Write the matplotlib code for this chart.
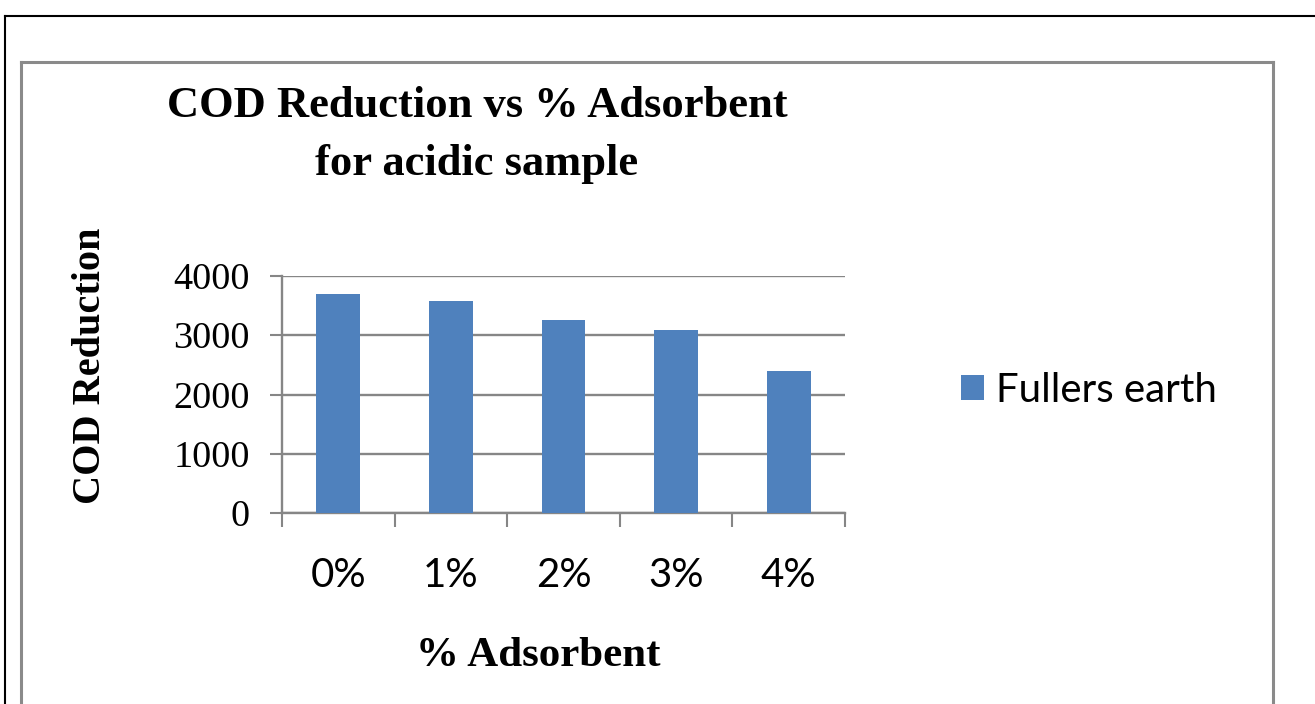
import matplotlib
matplotlib.use("Agg")
import matplotlib.pyplot as plt
from matplotlib.lines import Line2D
import numpy as np

# Data
categories = ["0%", "1%", "2%", "3%", "4%"]
cod_reduction = [3700, 3580, 3250, 3090, 2400]
series_name = "Fullers earth"
y_ticks = [0, 1000, 2000, 3000, 4000]

W, H = 1315, 704
fig = plt.figure(figsize=(W / 100, H / 100), dpi=100)
fig.patch.set_facecolor("white")


def fx(px):
    return px / W


def fy(py):
    return 1 - py / H


GRID = "#868686"
BAR = "#4F81BD"

# Page frame (black) and chart-area frame (grey)
frame_lines = [
    ((5, 5), (16, 704), "black", 1.5),
    ((5, 1315), (16, 16), "black", 1.5),
    ((21, 21), (62, 704), "#8a8a8a", 2.2),
    ((21, 1273), (62, 62), "#8a8a8a", 2.2),
    ((1273, 1273), (62, 704), "#8a8a8a", 2.2),
]
for xs, ys, c, lw in frame_lines:
    fig.add_artist(Line2D([fx(v) for v in xs], [fy(v) for v in ys],
                          transform=fig.transFigure, color=c, linewidth=lw))

# Plot area
ax = fig.add_axes([fx(282), fy(513), fx(845) - fx(282), fy(276) - fy(513)])
x = np.arange(len(categories))
ax.bar(x, cod_reduction, width=0.39, color=BAR, label=series_name, zorder=3)

ax.set_xlim(-0.5, len(categories) - 0.5)
ax.set_ylim(0, 4000)
ax.set_yticks(y_ticks)
ax.set_yticklabels([str(v) for v in y_ticks], fontfamily="Liberation Serif",
                   fontsize=27.5)
ax.yaxis.grid(True, color=GRID, linewidth=1.7)
ax.set_axisbelow(True)

for side in ["top", "right"]:
    ax.spines[side].set_visible(False)
for side in ["left", "bottom"]:
    ax.spines[side].set_color(GRID)
    ax.spines[side].set_linewidth(1.7)

# Category boundary ticks and centred category labels
ax.set_xticks(np.arange(-0.5, len(categories), 1.0))
ax.set_xticklabels([])
ax.set_xticks(x, minor=True)
ax.set_xticklabels(categories, minor=True, fontfamily="Lato", fontsize=29)
ax.tick_params(axis="x", which="major", length=10, width=1.5, color=GRID)
ax.tick_params(axis="x", which="minor", length=0, pad=32)
ax.tick_params(axis="y", length=9, width=1.5, color=GRID, pad=14)

# Legend
ax.legend(loc="center left", bbox_to_anchor=(fx(961), fy(390)),
          bbox_transform=fig.transFigure, frameon=False,
          prop={"family": "Lato", "size": 29},
          handlelength=0.58, handleheight=0.58, handletextpad=0.3,
          borderpad=0, borderaxespad=0)

# Titles
fig.text(fx(477), fy(135), "COD Reduction vs % Adsorbent\nfor acidic sample",
         ha="center", va="center", fontfamily="Liberation Serif",
         fontweight="bold", fontsize=32, linespacing=1.55)
fig.text(fx(91), fy(366), "COD Reduction", rotation=90, ha="center",
         va="center", fontfamily="Liberation Serif", fontweight="bold",
         fontsize=29)
fig.text(fx(538), fy(656), "% Adsorbent", ha="center", va="center",
         fontfamily="Liberation Serif", fontweight="bold", fontsize=31)

fig.savefig("out.png", dpi=100, facecolor="white")
